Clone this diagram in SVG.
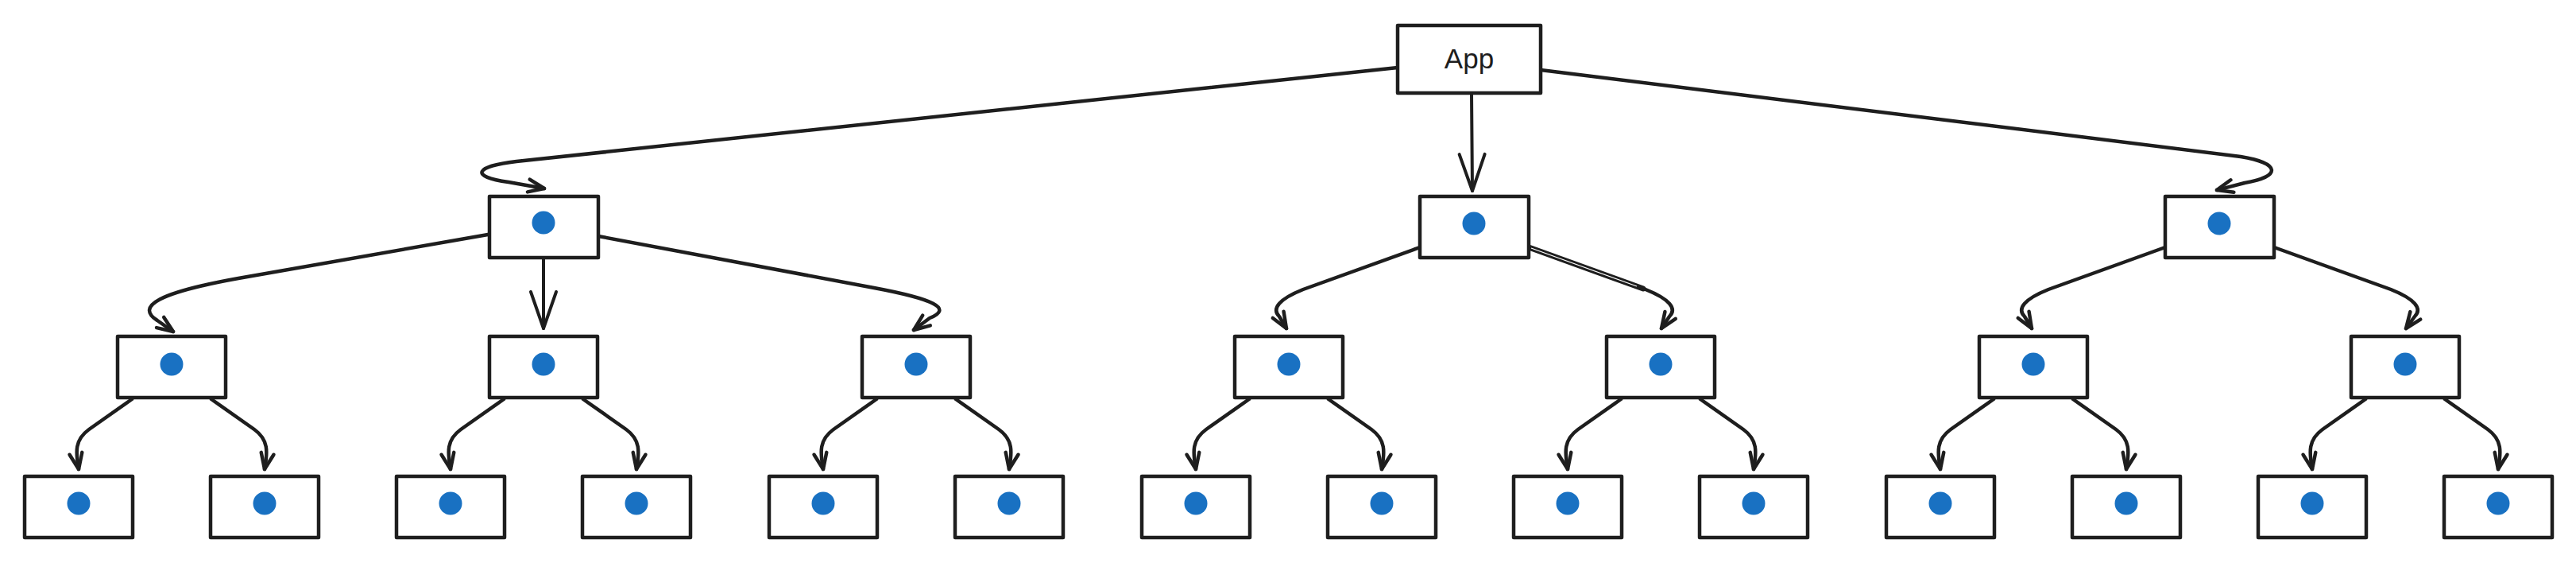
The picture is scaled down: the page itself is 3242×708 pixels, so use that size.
<svg xmlns="http://www.w3.org/2000/svg" width="3242" height="708" viewBox="0 0 3242 708">
<style>
.box{fill:#ffffff;stroke:#1e1e1e;stroke-width:4.5;stroke-linejoin:round}
.dot{fill:#1971c2}
.edge{fill:none;stroke:#1e1e1e;stroke-width:4.5;stroke-linecap:round;stroke-linejoin:round}
.edge-s{fill:none;stroke:#1e1e1e;stroke-width:4;stroke-linecap:round}
.lbl{font-family:"Liberation Sans",Arial,sans-serif;font-size:35px;fill:#1e1e1e;text-anchor:middle}
</style>
<defs>
<marker id="ah" viewBox="-30 -15 35 30" markerWidth="35" markerHeight="30" refX="0" refY="0" orient="auto" markerUnits="userSpaceOnUse">
<path d="M-20,-8 L0,0 L-20,8" fill="none" stroke="#1e1e1e" stroke-width="4.5" stroke-linecap="round" stroke-linejoin="round"/>
</marker>
<marker id="ahb" viewBox="-55 -22 60 44" markerWidth="60" markerHeight="44" refX="0" refY="0" orient="auto" markerUnits="userSpaceOnUse">
<path d="M-46,-16 L0,0 L-46,16" fill="none" stroke="#1e1e1e" stroke-width="4" stroke-linecap="round" stroke-linejoin="round"/>
</marker>
</defs>
<rect width="3242" height="708" fill="#ffffff"/>
<g id="connectors">
<path class="edge" d="M1759,85 L650,203 C598,209 590,222 640,229 L685,237" marker-end="url(#ah)"/>
<path class="edge-s" d="M1852,117 L1853,240" marker-end="url(#ahb)"/>
<path class="edge" d="M1939,88 L2820,197 C2870,205 2872,222 2825,230 L2790,239" marker-end="url(#ah)"/>
<path class="edge" d="M614,295 L300,350 C200,368 170,385 198,403 L218,417" marker-end="url(#ah)"/>
<path class="edge-s" d="M684,323 L684,413" marker-end="url(#ahb)"/>
<path class="edge" d="M753,297 L1100,362 C1175,376 1200,388 1170,400 L1150,415" marker-end="url(#ah)"/>
<path class="edge" d="M1787,311 L1640,364 C1610,376 1600,388 1610,398 L1619,413" marker-end="url(#ah)"/>
<path class="edge" d="M1924,311 L2071,364 C2101,376 2111,388 2101,398 L2091,413" marker-end="url(#ah)"/>
<path d="M1924,311 L2068,363" fill="none" stroke="#1e1e1e" stroke-width="7" stroke-linecap="round"/>
<path d="M1927,312 L2060,360" fill="none" stroke="#ffffff" stroke-width="1.2"/>
<path class="edge" d="M2725,311 L2578,364 C2548,376 2538,388 2548,398 L2557,413" marker-end="url(#ah)"/>
<path class="edge" d="M2862,311 L3009,364 C3039,376 3049,388 3039,398 L3028,413" marker-end="url(#ah)"/>
<path class="edge" d="M166,502 L112,540 C94,553 95,568 99,590" marker-end="url(#ah)"/>
<path class="edge" d="M266,502 L320,540 C338,553 337,568 333,590" marker-end="url(#ah)"/>
<path class="edge" d="M634,502 L580,540 C562,553 563,568 567,590" marker-end="url(#ah)"/>
<path class="edge" d="M734,502 L788,540 C806,553 805,568 801,590" marker-end="url(#ah)"/>
<path class="edge" d="M1103,502 L1049,540 C1031,553 1032,568 1036,590" marker-end="url(#ah)"/>
<path class="edge" d="M1203,502 L1257,540 C1275,553 1274,568 1270,590" marker-end="url(#ah)"/>
<path class="edge" d="M1572,502 L1518,540 C1500,553 1501,568 1505,590" marker-end="url(#ah)"/>
<path class="edge" d="M1672,502 L1726,540 C1744,553 1743,568 1739,590" marker-end="url(#ah)"/>
<path class="edge" d="M2040,502 L1986,540 C1968,553 1969,568 1973,590" marker-end="url(#ah)"/>
<path class="edge" d="M2140,502 L2194,540 C2212,553 2211,568 2207,590" marker-end="url(#ah)"/>
<path class="edge" d="M2509,502 L2455,540 C2437,553 2438,568 2442,590" marker-end="url(#ah)"/>
<path class="edge" d="M2609,502 L2663,540 C2681,553 2680,568 2676,590" marker-end="url(#ah)"/>
<path class="edge" d="M2977,502 L2923,540 C2905,553 2906,568 2910,590" marker-end="url(#ah)"/>
<path class="edge" d="M3077,502 L3131,540 C3149,553 3148,568 3144,590" marker-end="url(#ah)"/>
</g>
<g id="app"><rect class="box" x="1759" y="32" width="180" height="85"/><text class="lbl" x="1849" y="86">App</text></g>
<g id="n1a"><rect class="box" x="616" y="247" width="137" height="77"/><circle class="dot" cx="684" cy="280" r="14.5"/></g>
<g id="n1b"><rect class="box" x="1787" y="247" width="137" height="77"/><circle class="dot" cx="1855" cy="281" r="14.5"/></g>
<g id="n1c"><rect class="box" x="2725" y="247" width="137" height="77"/><circle class="dot" cx="2793" cy="281" r="14.5"/></g>
<g id="n2a"><rect class="box" x="148" y="423" width="136" height="77"/><circle class="dot" cx="216" cy="458" r="14.5"/></g>
<g id="n2b"><rect class="box" x="616" y="423" width="136" height="77"/><circle class="dot" cx="684" cy="458" r="14.5"/></g>
<g id="n2c"><rect class="box" x="1085" y="423" width="136" height="77"/><circle class="dot" cx="1153" cy="458" r="14.5"/></g>
<g id="n2d"><rect class="box" x="1554" y="423" width="136" height="77"/><circle class="dot" cx="1622" cy="458" r="14.5"/></g>
<g id="n2e"><rect class="box" x="2022" y="423" width="136" height="77"/><circle class="dot" cx="2090" cy="458" r="14.5"/></g>
<g id="n2f"><rect class="box" x="2491" y="423" width="136" height="77"/><circle class="dot" cx="2559" cy="458" r="14.5"/></g>
<g id="n2g"><rect class="box" x="2959" y="423" width="136" height="77"/><circle class="dot" cx="3027" cy="458" r="14.5"/></g>
<g id="n3a"><rect class="box" x="31" y="599" width="136" height="77"/><circle class="dot" cx="99" cy="633" r="14.5"/></g>
<g id="n3b"><rect class="box" x="265" y="599" width="136" height="77"/><circle class="dot" cx="333" cy="633" r="14.5"/></g>
<g id="n3c"><rect class="box" x="499" y="599" width="136" height="77"/><circle class="dot" cx="567" cy="633" r="14.5"/></g>
<g id="n3d"><rect class="box" x="733" y="599" width="136" height="77"/><circle class="dot" cx="801" cy="633" r="14.5"/></g>
<g id="n3e"><rect class="box" x="968" y="599" width="136" height="77"/><circle class="dot" cx="1036" cy="633" r="14.5"/></g>
<g id="n3f"><rect class="box" x="1202" y="599" width="136" height="77"/><circle class="dot" cx="1270" cy="633" r="14.5"/></g>
<g id="n3g"><rect class="box" x="1437" y="599" width="136" height="77"/><circle class="dot" cx="1505" cy="633" r="14.5"/></g>
<g id="n3h"><rect class="box" x="1671" y="599" width="136" height="77"/><circle class="dot" cx="1739" cy="633" r="14.5"/></g>
<g id="n3i"><rect class="box" x="1905" y="599" width="136" height="77"/><circle class="dot" cx="1973" cy="633" r="14.5"/></g>
<g id="n3j"><rect class="box" x="2139" y="599" width="136" height="77"/><circle class="dot" cx="2207" cy="633" r="14.5"/></g>
<g id="n3k"><rect class="box" x="2374" y="599" width="136" height="77"/><circle class="dot" cx="2442" cy="633" r="14.5"/></g>
<g id="n3l"><rect class="box" x="2608" y="599" width="136" height="77"/><circle class="dot" cx="2676" cy="633" r="14.5"/></g>
<g id="n3m"><rect class="box" x="2842" y="599" width="136" height="77"/><circle class="dot" cx="2910" cy="633" r="14.5"/></g>
<g id="n3n"><rect class="box" x="3076" y="599" width="136" height="77"/><circle class="dot" cx="3144" cy="633" r="14.5"/></g>
</svg>
